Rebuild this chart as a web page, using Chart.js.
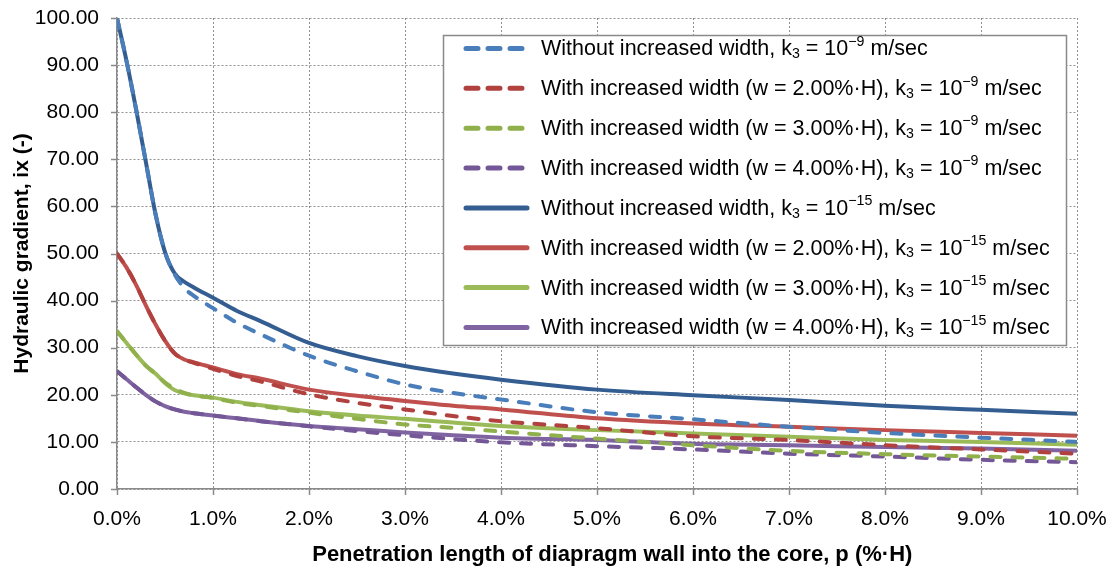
<!DOCTYPE html>
<html>
<head>
<meta charset="utf-8">
<script src="https://cdn.jsdelivr.net/npm/chart.js@4.4.1/dist/chart.umd.min.js"></script>
<style>
  html, body { margin: 0; padding: 0; background: #ffffff; }
  #wrap { width: 1115px; height: 569px; position: relative; }
</style>
</head>
<body>
<div id="wrap"><canvas id="c" width="1115" height="569"></canvas></div>
<script>
// ---- data ----
const pValues = [0, 0.1, 0.2, 0.3, 0.4, 0.5, 0.6, 0.7, 0.8, 1.0, 1.25, 1.5, 2.0, 2.5, 3.0, 3.5, 4.0, 5.0, 6.0, 7.0, 8.0, 9.0, 10.0];

const noWidth_k9  = [100, 90.8, 80.5, 69.5, 58.5, 50.3, 45.6, 42.7, 41.0, 38.4, 35.3, 32.8, 28.3, 25.0, 22.2, 20.4, 19.0, 16.3, 14.8, 13.2, 11.9, 10.9, 10.0];
const w2_k9       = [50, 47, 43.3, 39, 35, 31.5, 28.8, 27.5, 26.8, 25.5, 24.0, 22.8, 20.1, 18.3, 16.9, 15.5, 14.4, 12.9, 11.2, 10.4, 9.3, 8.4, 7.5];
const w3_k9       = [33.5, 31, 28.5, 26.2, 24.5, 22.6, 21.3, 20.4, 19.9, 19.3, 18.3, 17.6, 16.2, 14.9, 13.7, 13.0, 12.2, 10.7, 9.3, 8.1, 7.4, 6.9, 6.4];
const w4_k9       = [25, 23.3, 21.6, 20, 18.6, 17.6, 16.9, 16.4, 16.1, 15.6, 15.0, 14.4, 13.3, 12.3, 11.4, 10.6, 9.9, 9.1, 8.4, 7.5, 6.9, 6.2, 5.7];
const noWidth_k15 = [100, 90.8, 80.5, 69.5, 58.5, 50.3, 45.8, 44.0, 42.8, 40.6, 37.8, 35.6, 31.0, 28.2, 26.1, 24.5, 23.2, 21.1, 19.9, 18.9, 17.7, 16.8, 16.0];
const w2_k15      = [50, 47, 43.3, 39, 35, 31.5, 28.8, 27.5, 26.9, 25.8, 24.4, 23.4, 21.1, 19.8, 18.7, 17.7, 16.9, 15.0, 13.9, 13.2, 12.5, 11.9, 11.3];
const w3_k15      = [33.5, 31, 28.5, 26.2, 24.5, 22.5, 21.0, 20.3, 19.9, 19.4, 18.5, 17.8, 16.5, 15.6, 14.9, 14.1, 13.4, 12.5, 11.8, 11.1, 10.4, 10.0, 9.4];
const w4_k15      = [25, 23.3, 21.6, 20, 18.6, 17.6, 16.9, 16.4, 16.1, 15.6, 15.0, 14.4, 13.4, 12.7, 12.0, 11.4, 10.9, 10.4, 9.6, 9.3, 8.9, 8.6, 8.1];

const seriesLabels = [
  "Without increased width, k\u2083 = 10\u207B\u2079 m/sec",
  "With increased width (w = 2.00%\u00B7H), k\u2083 = 10\u207B\u2079 m/sec",
  "With increased width (w = 3.00%\u00B7H), k\u2083 = 10\u207B\u2079 m/sec",
  "With increased width (w = 4.00%\u00B7H), k\u2083 = 10\u207B\u2079 m/sec",
  "Without increased width, k\u2083 = 10\u207B\u00B9\u2075 m/sec",
  "With increased width (w = 2.00%\u00B7H), k\u2083 = 10\u207B\u00B9\u2075 m/sec",
  "With increased width (w = 3.00%\u00B7H), k\u2083 = 10\u207B\u00B9\u2075 m/sec",
  "With increased width (w = 4.00%\u00B7H), k\u2083 = 10\u207B\u00B9\u2075 m/sec"
];
const seriesValues = [noWidth_k9, w2_k9, w3_k9, w4_k9, noWidth_k15, w2_k15, w3_k15, w4_k15];
const xAxisTitle = "Penetration length of diapragm wall into the core, p (%\u00B7H)";
const yAxisTitle = "Hydraulic gradient, ix (-)";

// ---- styles ----
const seriesColors = ["#4a7ebb", "#b0413e", "#8fb04a", "#735796", "#345e91", "#c0504d", "#9bbb59", "#8064a2"];
const seriesDashed = [true, true, true, true, false, false, false, false];
const DASH = [10, 12];
const FONT = "'Liberation Sans', Arial, sans-serif";
const FS = 21;

const datasets = seriesValues.map((vals, i) => ({
  label: seriesLabels[i],
  data: vals.map((v, j) => ({ x: pValues[j], y: v })),
  borderColor: seriesColors[i],
  backgroundColor: seriesColors[i],
  borderWidth: 4,
  borderDash: seriesDashed[i] ? DASH : [],
  borderCapStyle: seriesDashed[i] ? 'round' : 'butt',
  borderJoinStyle: 'round',
  pointRadius: 0,
  cubicInterpolationMode: 'monotone',
  order: seriesDashed[i] ? 0 : 1,
  fill: false
}));

// tick marks plugin (solid, outside)
const tickMarks = {
  id: 'tickMarks',
  afterDraw(chart) {
    const ctx = chart.ctx, x = chart.scales.x, y = chart.scales.y, a = chart.chartArea;
    ctx.save();
    ctx.strokeStyle = '#8a8a8a';
    ctx.lineWidth = 1.5;
    ctx.beginPath();
    y.ticks.forEach(t => {
      const py = Math.round(y.getPixelForValue(t.value)) + 0.5;
      ctx.moveTo(a.left - 6, py); ctx.lineTo(a.left, py);
    });
    x.ticks.forEach(t => {
      const px = Math.round(x.getPixelForValue(t.value)) + 0.5;
      ctx.moveTo(px, a.bottom); ctx.lineTo(px, a.bottom + 6);
    });
    ctx.stroke();
    ctx.restore();
  }
};

// legend plugin with sub/superscripts
const SUP = { '\u207B': '\u2212', '\u2079': '9', '\u00B9': '1', '\u2075': '5' };
const SUB = { '\u2083': '3' };
function drawRich(ctx, text, x, y, size) {
  let runs = [];
  for (const ch of text) {
    const type = SUP[ch] ? 'sup' : SUB[ch] ? 'sub' : 'n';
    const c = SUP[ch] || SUB[ch] || ch;
    if (runs.length && runs[runs.length - 1].type === type) runs[runs.length - 1].t += c;
    else runs.push({ type, t: c });
  }
  let cx = x;
  runs.forEach(r => {
    let fs = size, dy = 0;
    if (r.type === 'sup') { fs = size * 0.66; dy = -size * 0.36; }
    if (r.type === 'sub') { fs = size * 0.66; dy = size * 0.22; }
    ctx.font = fs + 'px ' + FONT;
    ctx.fillText(r.t, cx, y + dy);
    cx += ctx.measureText(r.t).width;
  });
}
const richLegend = {
  id: 'richLegend',
  afterDraw(chart) {
    const ctx = chart.ctx, a = chart.chartArea;
    const bx = a.left + 326, by = a.top + 17, bw = 623, bh = 310;
    ctx.save();
    ctx.fillStyle = '#ffffff';
    ctx.fillRect(bx, by, bw, bh);
    ctx.strokeStyle = '#8a8a8a';
    ctx.lineWidth = 1.5;
    ctx.strokeRect(bx + 0.5, by + 0.5, bw, bh);
    const rowH = 39.85;
    chart.data.datasets.forEach((ds, i) => {
      const cy = by + 13.5 + i * rowH;
      ctx.save();
      ctx.strokeStyle = ds.borderColor;
      ctx.lineWidth = 5;
      ctx.lineCap = 'round';
      ctx.setLineDash(seriesDashed[i] ? [12, 10] : []);
      ctx.beginPath();
      ctx.moveTo(bx + 23, cy); ctx.lineTo(bx + 84, cy);
      ctx.stroke();
      ctx.restore();
      ctx.fillStyle = '#000000';
      ctx.textBaseline = 'middle';
      drawRich(ctx, ds.label, bx + 98, cy + 1, 21.5);
    });
    ctx.restore();
  }
};

new Chart(document.getElementById('c'), {
  type: 'line',
  data: { datasets },
  options: {
    responsive: false,
    animation: false,
    devicePixelRatio: 1,
    layout: { padding: { top: 18, right: 38, left: 0, bottom: 0 } },
    plugins: { legend: { display: false }, tooltip: { enabled: false } },
    scales: {
      x: {
        type: 'linear', min: 0, max: 10,
        ticks: { stepSize: 1, color: '#000', font: { family: FONT, size: FS }, padding: 18,
                 callback: v => v.toFixed(1) + '%', maxRotation: 0, autoSkip: false },
        grid: { color: '#909090', lineWidth: 1, drawTicks: false },
        border: { color: '#8a8a8a', width: 1.5, dash: [2, 2] },
        title: { display: true, text: "\u00A0\u00A0\u00A0\u00A0\u00A0" + xAxisTitle, color: '#000',
                 font: { family: FONT, size: 22, weight: 'bold' }, padding: { top: 0, bottom: 1 } },
        afterFit(s) { s.height = 80; s.paddingLeft = 0; s.paddingRight = 0; }
      },
      y: {
        type: 'linear', min: 0, max: 100,
        ticks: { stepSize: 10, color: '#000', font: { family: FONT, size: FS }, padding: 18,
                 callback: v => v.toFixed(2) },
        grid: { color: '#909090', lineWidth: 1, drawTicks: false },
        border: { color: '#8a8a8a', width: 1.5, dash: [2, 2] },
        title: { display: true, text: yAxisTitle, color: '#000',
                 font: { family: FONT, size: FS, weight: 'bold' }, padding: { top: 10, bottom: 0 } },
        afterFit(s) { s.width = 117; s.paddingTop = 0; s.paddingBottom = 0; }
      }
    }
  },
  plugins: [tickMarks, richLegend]
});
</script>
</body>
</html>
